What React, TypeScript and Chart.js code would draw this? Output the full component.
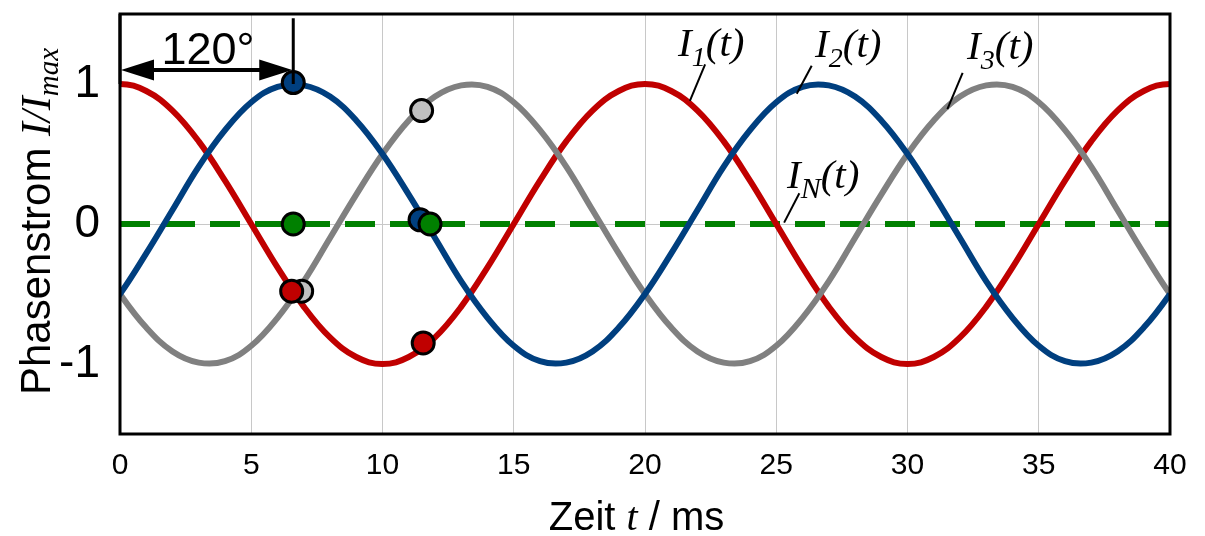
import React, { useEffect, useRef } from "react";
import { Chart, registerables } from "chart.js";
Chart.register(...registerables);

// ---- data (one sample beyond each edge keeps the curves smooth at the frame) ----
const TIME = [-1, 0, 1, 2, 3, 4, 5, 6, 7, 8, 9, 10, 11, 12, 13, 14, 15, 16, 17, 18, 19, 20,
  21, 22, 23, 24, 25, 26, 27, 28, 29, 30, 31, 32, 33, 34, 35, 36, 37, 38, 39, 40, 41];
const I1 = [0.95, 1.0, 0.95, 0.81, 0.59, 0.31, 0.0, -0.31, -0.59, -0.81, -0.95, -1.0, -0.95, -0.81, -0.59, -0.31, 0.0, 0.31, 0.59, 0.81, 0.95, 1.0,
  0.95, 0.81, 0.59, 0.31, 0.0, -0.31, -0.59, -0.81, -0.95, -1.0, -0.95, -0.81, -0.59, -0.31, 0.0, 0.31, 0.59, 0.81, 0.95, 1.0, 0.95];
const I2 = [-0.74, -0.5, -0.21, 0.1, 0.41, 0.67, 0.87, 0.98, 0.99, 0.91, 0.74, 0.5, 0.21, -0.1, -0.41, -0.67, -0.87, -0.98, -0.99, -0.91, -0.74, -0.5,
  -0.21, 0.1, 0.41, 0.67, 0.87, 0.98, 0.99, 0.91, 0.74, 0.5, 0.21, -0.1, -0.41, -0.67, -0.87, -0.98, -0.99, -0.91, -0.74, -0.5, -0.21];
const I3 = [-0.21, -0.5, -0.74, -0.91, -0.99, -0.98, -0.87, -0.67, -0.41, -0.1, 0.21, 0.5, 0.74, 0.91, 0.99, 0.98, 0.87, 0.67, 0.41, 0.1, -0.21, -0.5,
  -0.74, -0.91, -0.99, -0.98, -0.87, -0.67, -0.41, -0.1, 0.21, 0.5, 0.74, 0.91, 0.99, 0.98, 0.87, 0.67, 0.41, 0.1, -0.21, -0.5, -0.74];
const IN_TIME = [0, 40];
const IN = [0, 0];

const MARK_BLUE_T = [6.6, 11.43];
const MARK_BLUE_V = [1.01, 0.03];
const MARK_GREEN_T = [6.6, 11.81];
const MARK_GREEN_V = [0, 0];
const MARK_RED_T = [6.54, 11.55];
const MARK_RED_V = [-0.48, -0.85];
const MARK_GREY_T = [6.92, 11.49];
const MARK_GREY_V = [-0.48, 0.81];

const X_MIN = 0;
const X_MAX = 40;
const X_STEP = 5;
const Y_MIN = -1.5;
const Y_MAX = 1.5;
const Y_TICKS = [-1, 0, 1];

const PHASE_T = 6.6; // 120°
const ARROW_V = 1.1;

const LABELS = [
  { main: "I", sub: "1", t: 21.26, v: 1.2, subSize: 28, leader: [22.29, 1.14, 21.71, 0.88] },
  { main: "I", sub: "2", t: 26.48, v: 1.19, subSize: 28, leader: [26.35, 1.13, 25.78, 0.93] },
  { main: "I", sub: "3", t: 32.27, v: 1.18, subSize: 28, leader: [32.1, 1.08, 31.52, 0.82] },
  { main: "I", sub: "N", t: 25.41, v: 0.26, subSize: 30, leader: [25.88, 0.22, 25.3, 0.01] },
];

const RED = "#C00000";
const BLUE = "#003F7F";
const GREY = "#808080";
const GREEN = "#008000";
const SANS = "'Liberation Sans', Arial, sans-serif";
const SERIF = "'Liberation Serif', 'Times New Roman', serif";

const pts = (xs: number[], ys: number[]) => xs.map((x, i) => ({ x, y: ys[i] }));

type Run = { text: string; font: string; dy?: number };
function runsWidth(ctx: CanvasRenderingContext2D, runs: Run[]) {
  let w = 0;
  for (const r of runs) {
    ctx.font = r.font;
    w += ctx.measureText(r.text).width;
  }
  return w;
}
function drawRuns(ctx: CanvasRenderingContext2D, runs: Run[], x: number, y: number) {
  let cx = x;
  ctx.textBaseline = "alphabetic";
  ctx.textAlign = "left";
  for (const r of runs) {
    ctx.font = r.font;
    ctx.fillText(r.text, cx, y + (r.dy || 0));
    cx += ctx.measureText(r.text).width;
  }
}

const annotPlugin = {
  id: "annot",
  afterDraw(chart: any) {
    const { ctx, chartArea: a, scales } = chart;
    const xs = scales.x;
    const ys = scales.y;
    const X = (t: number) => xs.getPixelForValue(t);
    const Y = (v: number) => ys.getPixelForValue(v);
    ctx.save();
    ctx.fillStyle = "#000";
    ctx.strokeStyle = "#000";

    // frame
    ctx.lineWidth = 3;
    ctx.strokeRect(a.left, a.top, a.right - a.left, a.bottom - a.top);

    // 120° dimension
    ctx.lineWidth = 3;
    ctx.beginPath();
    ctx.moveTo(X(0), a.top);
    ctx.lineTo(X(0), Y(1));
    ctx.moveTo(X(PHASE_T), Y(1.47));
    ctx.lineTo(X(PHASE_T), Y(1.0));
    ctx.stroke();
    const ay = Y(ARROW_V);
    const x0 = X(0) + 1;
    const x1 = X(PHASE_T) - 1;
    const hl = 33, hw = 10.5;
    ctx.lineWidth = 4;
    ctx.beginPath();
    ctx.moveTo(x0 + hl - 2, ay);
    ctx.lineTo(x1 - hl + 2, ay);
    ctx.stroke();
    ctx.beginPath();
    ctx.moveTo(x0, ay);
    ctx.lineTo(x0 + hl, ay - hw);
    ctx.lineTo(x0 + hl, ay + hw);
    ctx.closePath();
    ctx.fill();
    ctx.beginPath();
    ctx.moveTo(x1, ay);
    ctx.lineTo(x1 - hl, ay - hw);
    ctx.lineTo(x1 - hl, ay + hw);
    ctx.closePath();
    ctx.fill();
    ctx.font = `45px ${SANS}`;
    ctx.textAlign = "center";
    ctx.textBaseline = "alphabetic";
    ctx.fillText("120°", X(3.35), Y(1.14));

    // curve labels + leaders
    for (const L of LABELS) {
      ctx.lineWidth = 2;
      ctx.beginPath();
      ctx.moveTo(X(L.leader[0]), Y(L.leader[1]));
      ctx.lineTo(X(L.leader[2]), Y(L.leader[3]));
      ctx.stroke();
      drawRuns(ctx, [
        { text: L.main, font: `italic 41px ${SERIF}` },
        { text: L.sub, font: `italic ${L.subSize}px ${SERIF}`, dy: 10 },
        { text: "(t)", font: `italic 41px ${SERIF}` },
      ], X(L.t), Y(L.v));
    }

    // x-axis title
    const xr: Run[] = [
      { text: "Zeit ", font: `40px ${SANS}` },
      { text: "t", font: `italic 40px ${SERIF}` },
      { text: " / ms", font: `40px ${SANS}` },
    ];
    const xw = runsWidth(ctx, xr);
    drawRuns(ctx, xr, 636.5 - xw / 2, 530);

    // y-axis title
    const yr: Run[] = [
      { text: "Phasenstrom ", font: `42px ${SANS}` },
      { text: "I/I", font: `italic 42px ${SERIF}` },
      { text: "max", font: `italic 29px ${SERIF}`, dy: 8 },
    ];
    const yw = runsWidth(ctx, yr);
    ctx.save();
    ctx.translate(50, 221.5);
    ctx.rotate(-Math.PI / 2);
    drawRuns(ctx, yr, -yw / 2, 0);
    ctx.restore();

    ctx.restore();
  },
};

export default function App() {
  const ref = useRef<HTMLCanvasElement | null>(null);
  useEffect(() => {
    document.body.style.margin = "0";
    const line = (data: any[], color: string, extra: any = {}) => ({
      data,
      showLine: true,
      borderColor: color,
      borderWidth: 6,
      pointRadius: 0,
      tension: 0.4,
      fill: false,
      clip: 0,
      ...extra,
    });
    const marker = (t: number[], v: number[], fill: string) => ({
      data: pts(t, v),
      showLine: false,
      pointRadius: 11,
      pointBorderWidth: 3,
      pointBackgroundColor: fill,
      pointBorderColor: "#000",
      pointHoverRadius: 11,
      clip: false,
    });
    const chart = new Chart(ref.current!, {
      type: "scatter",
      data: {
        datasets: [
          marker(MARK_GREEN_T, MARK_GREEN_V, GREEN),
          marker(MARK_RED_T, MARK_RED_V, RED),
          marker(MARK_BLUE_T, MARK_BLUE_V, BLUE),
          marker(MARK_GREY_T, MARK_GREY_V, "#C0C0C0"),
          line(pts(TIME, I2), BLUE),
          line(pts(TIME, I3), GREY),
          line(pts(TIME, I1), RED),
          line(pts(IN_TIME, IN), GREEN, { borderDash: [30, 15], borderWidth: 6, tension: 0 }),
        ] as any,
      },
      options: {
        responsive: false,
        animation: false,
        events: [],
        layout: { padding: { left: 0, right: 35, top: 9, bottom: 0 } },
        plugins: { legend: { display: false }, tooltip: { enabled: false } },
        scales: {
          x: {
            type: "linear",
            min: X_MIN,
            max: X_MAX,
            ticks: { stepSize: X_STEP, color: "#000", font: { family: SANS, size: 30 }, padding: 14 },
            grid: { color: "#C8C8C8", lineWidth: 1, drawTicks: false },
            border: { display: false },
            afterFit: (s: any) => { s.height = 102; s.paddingLeft = 0; s.paddingRight = 0; },
          },
          y: {
            type: "linear",
            min: Y_MIN,
            max: Y_MAX,
            afterBuildTicks: (s: any) => { s.ticks = Y_TICKS.map((v) => ({ value: v })); },
            ticks: { color: "#000", font: { family: SANS, size: 46 }, padding: 20, callback: (v: any) => String(v) },
            grid: {
              color: (c: any) => (c.tick && c.tick.value === 0 ? "#C8C8C8" : "rgba(0,0,0,0)"),
              lineWidth: 1,
              drawTicks: false,
            },
            border: { display: false },
            afterFit: (s: any) => { s.width = 120; s.paddingTop = 0; s.paddingBottom = 0; },
          },
        },
      },
      plugins: [annotPlugin],
    });
    return () => chart.destroy();
  }, []);
  return (
    <div style={{ position: "absolute", left: 0, top: 0, width: 1205, height: 536 }}>
      <canvas ref={ref} width={1205} height={536} />
    </div>
  );
}
